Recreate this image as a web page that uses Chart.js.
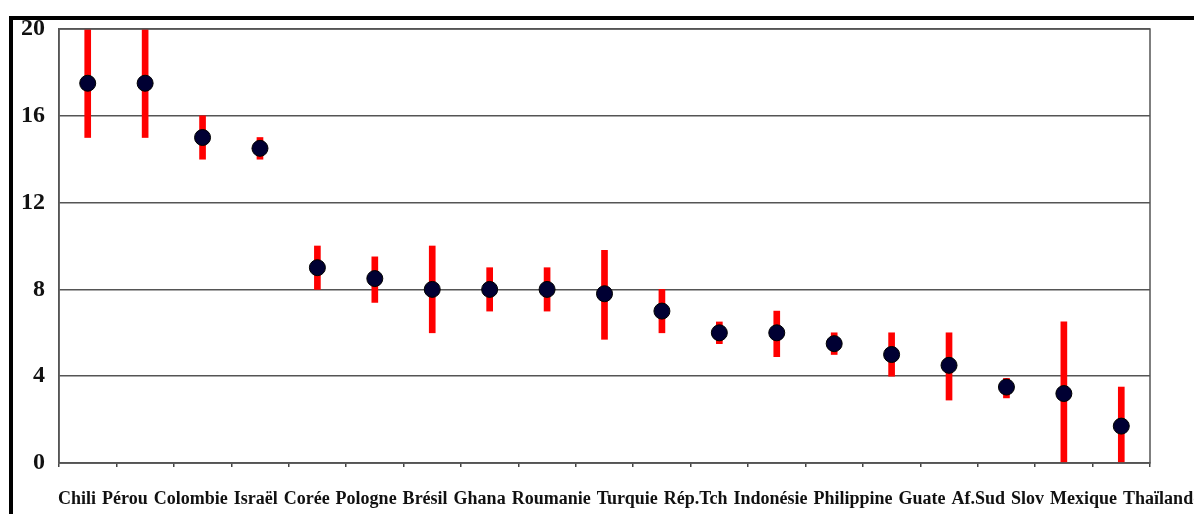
<!DOCTYPE html>
<html>
<head>
<meta charset="utf-8">
<script src="https://cdn.jsdelivr.net/npm/chart.js@4"></script>
<style>
  body { margin: 0; background: #fff; }
  #wrap { position: relative; width: 1194px; height: 514px; }
  #frame { position: absolute; left: 9px; top: 16px; right: 0; bottom: 0;
           border-top: 4px solid #000; border-left: 4px solid #000; }
  canvas { position: absolute; left: 0; top: 0; }
</style>
</head>
<body>
<div id="wrap">
  <div id="frame"></div>
  <canvas id="chart" width="1194" height="514"></canvas>
</div>
<script>
// country names as printed under the axis (18 names for 19 marks in the source)
var countries = ['Chili', 'Pérou', 'Colombie', 'Israël', 'Corée', 'Pologne', 'Brésil', 'Ghana',
  'Roumanie', 'Turquie', 'Rép.Tch', 'Indonésie', 'Philippine', 'Guate', 'Af.Sud', 'Slov',
  'Mexique', 'Thaïlande'];

// one slot per plotted mark
var slots = ['1', '2', '3', '4', '5', '6', '7', '8', '9', '10', '11', '12', '13', '14', '15',
  '16', '17', '18', '19'];

var central = [17.5, 17.5, 15, 14.5, 9, 8.5, 8, 8, 8, 7.8, 7, 6, 6, 5.5, 5, 4.5, 3.5, 3.2, 1.7];
var low  = [15, 15, 14, 14, 8, 7.4, 6, 7, 7, 5.7, 6, 5.5, 4.9, 5, 4, 2.9, 3, 0, 0];
var high = [20, 20, 16, 15, 10, 9.5, 10, 9, 9, 9.8, 8, 6.5, 7, 6, 6, 6, 3.9, 6.5, 3.5];

var yTicks = [0, 4, 8, 12, 16, 20];

var ranges = low.map(function(l, i) { return [l, high[i]]; });

// outline round the plot area
var plotFrame = {
  id: 'plotFrame',
  afterDraw: function(chart) {
    var a = chart.chartArea, c = chart.ctx;
    c.save();
    c.strokeStyle = '#555';
    c.lineWidth = 1.5;
    c.strokeRect(a.left, a.top, a.right - a.left, a.bottom - a.top);
    c.restore();
  }
};

// names are set one after another like a line of text, not on an even grid
function flowLabels(scale) {
  var gap = 6;
  scale.getPixelForTick = function(index) {
    var c = scale.ctx;
    c.save();
    c.font = Chart.helpers.toFont(scale.options.ticks.font).string;
    var x = scale.left - 1;
    for (var i = 0; i < index; i++) x += c.measureText(scale.ticks[i].label).width + gap;
    var w = c.measureText(scale.ticks[index].label).width;
    c.restore();
    return x + w / 2;
  };
}

var ctx = document.getElementById('chart');
var myChart = new Chart(ctx, {
  type: 'bar',
  data: {
    labels: slots,
    datasets: [{
      type: 'line',
      data: central,
      showLine: false,
      pointRadius: 8,
      pointBackgroundColor: '#000033',
      pointBorderColor: '#000000',
      pointBorderWidth: 1,
      order: 0
    }, {
      type: 'bar',
      data: ranges,
      backgroundColor: '#ff0000',
      barThickness: 6,
      order: 1
    }]
  },
  plugins: [plotFrame],
  options: {
    responsive: false,
    animation: false,
    layout: { padding: { left: 0, top: 29, right: 44, bottom: 0 } },
    plugins: {
      legend: { display: false },
      tooltip: { enabled: false }
    },
    scales: {
      x: {
        position: 'bottom',
        weight: 0,
        ticks: { display: false },
        grid: { offset: true, drawOnChartArea: false, drawTicks: true, tickLength: 4, color: '#444', lineWidth: 1.5 },
        border: { color: '#555', width: 1.5 },
        afterFit: function(s) { s.height = 4; }
      },
      xl: {
        type: 'category',
        labels: countries,
        position: 'bottom',
        weight: 1,
        grid: { display: false },
        border: { display: false },
        ticks: {
          autoSkip: false,
          maxRotation: 0,
          padding: 14,
          color: '#111',
          font: { family: 'Liberation Serif', weight: 'bold', size: 18 }
        },
        afterFit: function(s) { s.height = 47; flowLabels(s); }
      },
      y: {
        min: 0,
        max: 20,
        afterBuildTicks: function(s) { s.ticks = yTicks.map(function(v) { return { value: v }; }); },
        ticks: {
          padding: 14,
          color: '#111',
          font: { family: 'Liberation Serif', weight: 'bold', size: 24 }
        },
        grid: { color: '#555', lineWidth: 1.5, drawTicks: false },
        border: { color: '#555', width: 1.5 },
        afterFit: function(s) { s.width = 59; }
      }
    }
  }
});
</script>
</body>
</html>
